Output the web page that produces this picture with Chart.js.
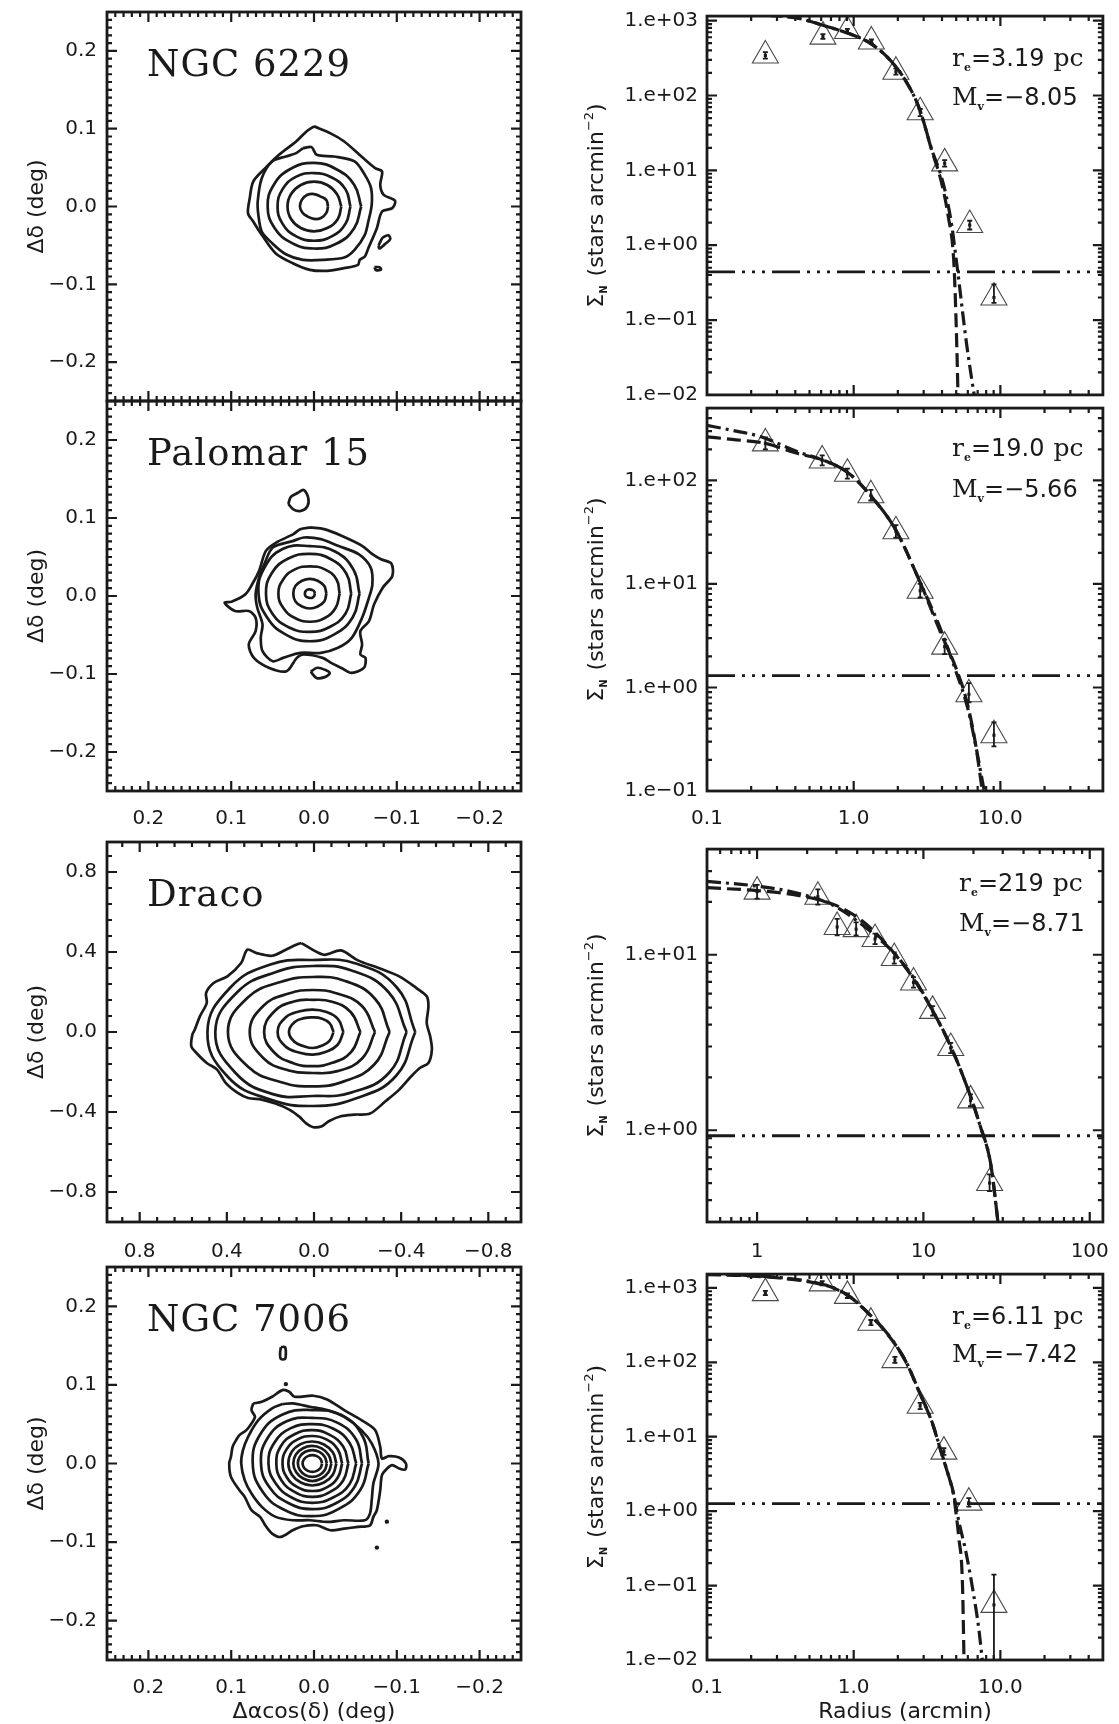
<!DOCTYPE html>
<html>
<head>
<meta charset="utf-8">
<script src="https://cdn.jsdelivr.net/npm/chart.js@4.4.0/dist/chart.umd.min.js"></script>
<style>
  body { margin: 0; background: #fff; width: 1119px; height: 1724px; position: relative; overflow: hidden; }
</style>
</head>
<body>
<script>
// ==========================================
// --- data: surface density profiles (right column) ---
// ==========================================

// NGC 6229
const n6229R  = [0.25, 0.617, 0.906, 1.32, 1.94, 2.84, 4.17, 6.18, 9.04];
const n6229S  = [343, 612, 726, 527, 208, 59.7, 12.4, 1.86, 0.20];
const n6229Lo = [310, 570, 680, 495, 190, 53, 11.2, 1.62, 0.17];
const n6229Hi = [380, 660, 775, 560, 228, 66, 13.7, 2.12, 0.30];
const n6229FitAR = [0.1, 0.233, 0.411, 0.646, 0.958, 1.27, 1.69, 2.24, 2.81, 3.42, 3.94, 4.41, 4.80, 4.93, 5.08, 5.14];
const n6229FitAS = [1300, 1197, 1083, 843, 657, 512, 327, 162, 66, 18.0, 7.3, 2.44, 0.665, 0.200, 0.027, 0.01];
const n6229FitBR = [0.1, 0.233, 0.411, 0.646, 0.958, 1.27, 1.69, 2.24, 2.81, 3.42, 3.94, 4.28, 4.67, 4.93, 5.20, 5.52, 5.91, 6.37, 6.63];
const n6229FitBS = [1300, 1197, 1083, 843, 657, 512, 327, 162, 66, 18.5, 8.5, 4.5, 1.8, 0.8, 0.35, 0.13, 0.045, 0.0165, 0.01];
const n6229Bg = 0.44;

// Palomar 15
const pal15R  = [0.25, 0.61, 0.906, 1.31, 1.94, 2.84, 4.17, 6.1, 9.04];
const pal15S  = [228, 156, 116, 72, 32.3, 8.6, 2.48, 0.86, 0.346];
const pal15Lo = [200, 140, 104, 64, 28, 7.4, 2.1, 0.72, 0.27];
const pal15Hi = [260, 175, 130, 81, 37, 10, 2.9, 1.1, 0.46];
const pal15FitAR = [0.1, 0.1485, 0.25, 0.411, 0.61, 0.906, 1.31, 1.94, 2.81, 3.94, 4.93, 5.85, 6.73, 7.53];
const pal15FitAS = [264, 249, 228, 183, 158, 120, 71, 33, 10.7, 3.32, 1.60, 0.77, 0.30, 0.1];
const pal15FitBR = [0.1, 0.1485, 0.2335, 0.411, 0.61, 0.906, 1.31, 1.94, 2.81, 3.94, 4.93, 6.01, 6.92, 7.76];
const pal15FitBS = [340, 305, 264, 190, 158, 120, 71, 33, 10.7, 3.57, 1.49, 0.62, 0.24, 0.1];
const pal15Bg = 1.30;

// Draco
const dracoR  = [1.0, 2.32, 3.03, 3.94, 5.12, 6.68, 8.72, 11.36, 14.6, 19.2, 25.0];
const dracoS  = [22.9, 21.4, 14.4, 14.0, 12.3, 9.58, 6.95, 4.79, 2.94, 1.48, 0.50];
const dracoLo = [20.9, 19.3, 12.9, 12.9, 11.5, 8.9, 6.5, 4.5, 2.75, 1.37, 0.45];
const dracoHi = [25.0, 23.6, 16.0, 15.3, 13.2, 10.3, 7.45, 5.1, 3.15, 1.6, 0.56];
const dracoFitAR = [0.5, 1, 1.76, 2.91, 4.14, 5.33, 6.68, 8.72, 11.36, 14.6, 18.8, 21.8, 25.4, 28.1];
const dracoFitAS = [24.1, 23.2, 21.8, 19.3, 16.0, 12.9, 10.2, 7.3, 4.8, 3.0, 1.65, 1.08, 0.64, 0.30];
const dracoFitBR = [0.5, 1, 1.76, 2.91, 4.14, 5.33, 6.68, 8.72, 11.36, 14.6, 18.8, 21.8, 25.4, 28.1];
const dracoFitBS = [26.2, 24.6, 22.4, 19.0, 15.2, 12.5, 10.2, 7.41, 4.82, 3.01, 1.65, 1.08, 0.643, 0.297];
const dracoBg = 0.93;

// NGC 7006
const n7006R  = [0.25, 0.61, 0.906, 1.31, 1.91, 2.84, 4.12, 6.1, 9.04];
const n7006S  = [850, 1150, 780, 340, 107, 26, 6.3, 1.3, 0.055];
const n7006Lo = [800, 1080, 730, 315, 98, 23.5, 5.7, 1.15, 0.001];
const n7006Hi = [910, 1230, 840, 370, 118, 28.5, 7.0, 1.5, 0.14];
const n7006FitAR = [0.1, 0.176, 0.31, 0.545, 0.722, 0.958, 1.27, 1.69, 2.24, 2.81, 3.42, 3.94, 4.41, 4.80, 4.93, 5.20, 5.52, 5.65];
const n7006FitAS = [1500, 1460, 1355, 1164, 1000, 738, 445, 242, 107, 39, 15.6, 6.27, 3.08, 1.68, 1.12, 0.45, 0.1, 0.01];
const n7006FitBR = [0.1, 0.176, 0.31, 0.545, 0.722, 0.958, 1.27, 1.69, 2.24, 2.81, 3.42, 3.94, 4.41, 4.80, 5.20, 5.85, 6.54, 7.13, 7.53];
const n7006FitBS = [1530, 1480, 1380, 1180, 1010, 745, 450, 245, 108, 39.5, 15.8, 6.4, 3.1, 1.68, 0.745, 0.27, 0.080, 0.0262, 0.01];
const n7006Bg = 1.26;

// tick labels
const radiusLabels = ['0.1', '1.0', '10.0'];
const radiusLabelVals = [0.1, 1, 10];
const dracoRadiusLabels = ['1', '10', '100'];
const dracoRadiusLabelVals = [1, 10, 100];
const gcOffsetTicks = [-0.2, -0.1, 0.0, 0.1, 0.2];
const dracoOffsetTicks = [-0.8, -0.4, 0.0, 0.4, 0.8];

// ==========================================
// --- data: density contours (left column), degrees ---
// ==========================================
// inner rings: radius read at each of these angles (0 = towards the right edge)
const contourAngles = [0, 30, 60, 90, 120, 150, 180, 210, 240, 270, 300, 330];

// NGC 6229
const n6229Centre = [0.0, 0.0];
const n6229Rings = [
    [0.017, 0.017, 0.015, 0.016, 0.017, 0.017, 0.017, 0.016, 0.015, 0.016, 0.017, 0.017],
    [0.033, 0.032, 0.032, 0.032, 0.032, 0.032, 0.032, 0.032, 0.032, 0.032, 0.032, 0.033],
    [0.044, 0.044, 0.043, 0.043, 0.044, 0.044, 0.044, 0.044, 0.044, 0.044, 0.044, 0.044],
    [0.057, 0.056, 0.055, 0.056, 0.056, 0.056, 0.056, 0.055, 0.054, 0.054, 0.055, 0.056]
];
const n6229Loop5X = [0.0133, 0.0029, -0.0033, -0.0241, -0.049, -0.0614, -0.0689, -0.0697, -0.0656, -0.0614, -0.049, -0.0365, -0.0116, 0.0133, 0.034, 0.0506, 0.0631, 0.0672, 0.068, 0.0631, 0.0506, 0.034, 0.0216];
const n6229Loop5Y = [0.075, 0.0763, 0.0664, 0.0643, 0.0579, 0.0407, 0.0236, 0.0021, -0.0193, -0.0364, -0.0557, -0.0656, -0.0686, -0.0686, -0.0613, -0.0471, -0.0321, -0.0107, 0.0064, 0.0364, 0.0579, 0.0643, 0.0686];
const n6229Loop6X = [0, -0.020, -0.0365, -0.0573, -0.0739, -0.0822, -0.080, -0.0842, -0.0979, -0.0946, -0.0822, -0.0759, -0.0656, -0.0614, -0.0552, -0.0531, -0.0365, -0.0158, 0.005, 0.0257, 0.0465, 0.0631, 0.0734, 0.0797, 0.0776, 0.0734, 0.0589, 0.0423, 0.0216, 0.0091];
const n6229Loop6Y = [0.103, 0.094, 0.0836, 0.0643, 0.0493, 0.045, 0.0279, 0.015, 0.0073, -0.0021, -0.0064, -0.0279, -0.0536, -0.0643, -0.0686, -0.075, -0.0793, -0.0827, -0.0814, -0.0729, -0.060, -0.0364, -0.0193, -0.0086, 0.0107, 0.0321, 0.0493, 0.0664, 0.0836, 0.0964];
const n6229BlobAX = [-0.078, -0.083, -0.090, -0.092, -0.085, -0.079];
const n6229BlobAY = [-0.050, -0.040, -0.037, -0.042, -0.049, -0.054];
const n6229BlobBX = [-0.073, -0.079, -0.081, -0.075];
const n6229BlobBY = [-0.078, -0.078, -0.081, -0.082];

// Palomar 15
const pal15Centre = [0.005, 0.003];
const pal15Rings = [
    [0.006, 0.006, 0.0055, 0.0055, 0.006, 0.006, 0.006, 0.006, 0.0055, 0.0055, 0.006, 0.006],
    [0.020, 0.020, 0.019, 0.019, 0.019, 0.020, 0.020, 0.020, 0.019, 0.019, 0.019, 0.020],
    [0.036, 0.037, 0.036, 0.035, 0.036, 0.037, 0.038, 0.037, 0.036, 0.036, 0.036, 0.036],
    [0.050, 0.051, 0.051, 0.051, 0.052, 0.053, 0.053, 0.052, 0.050, 0.049, 0.049, 0.050],
    [0.060, 0.061, 0.062, 0.061, 0.066, 0.064, 0.062, 0.060, 0.060, 0.061, 0.060, 0.060]
];
const pal15Loop6X = [0.0602, 0.0498, 0.0249, 0.0124, -0.0083, -0.029, -0.0539, -0.0685, -0.0705, -0.0664, -0.0581, -0.0456, -0.029, -0.0083, 0.0166, 0.0373, 0.0498, 0.0622, 0.0643, 0.0622, 0.0685, 0.0705, 0.0664];
const pal15Loop6Y = [0.0407, 0.0622, 0.0707, 0.075, 0.0729, 0.0643, 0.0536, 0.0364, 0.015, -0.0021, -0.0279, -0.0536, -0.0664, -0.0729, -0.0729, -0.0793, -0.0836, -0.0707, -0.0536, -0.0364, -0.015, 0.0021, 0.0236];
const pal15Loop7X = [0.0041, -0.0124, -0.0332, -0.0581, -0.0705, -0.0809, -0.0934, -0.0946, -0.083, -0.0726, -0.0664, -0.056, -0.0581, -0.056, -0.0622, -0.0602, -0.0456, -0.0332, -0.0207, -0.0104, 0.0124, 0.0207, 0.0332, 0.0539, 0.0726, 0.0788, 0.0705, 0.0705, 0.0788, 0.0954, 0.1079, 0.0996, 0.083, 0.0747, 0.0664, 0.0581, 0.0456, 0.0249, 0.0166];
const pal15Loop7Y = [0.0879, 0.0857, 0.0772, 0.0643, 0.0536, 0.0471, 0.0416, 0.0257, 0.0107, -0.0107, -0.0321, -0.045, -0.0622, -0.075, -0.0793, -0.0922, -0.0986, -0.0922, -0.0857, -0.0793, -0.075, -0.0793, -0.0964, -0.0922, -0.0793, -0.0622, -0.045, -0.0279, -0.0193, -0.0193, -0.0086, -0.0073, 0.0021, 0.015, 0.0321, 0.0579, 0.0686, 0.0793, 0.0857];
const pal15BlobTopX = [0.031, 0.028, 0.020, 0.0124, 0.007, 0.008, 0.016, 0.025];
const pal15BlobTopY = [0.118, 0.127, 0.132, 0.136, 0.126, 0.115, 0.109, 0.111];
const pal15BlobLowX = [0.004, -0.004, -0.014, -0.019, -0.013, -0.003];
const pal15BlobLowY = [-0.097, -0.092, -0.095, -0.099, -0.104, -0.105];

// Draco
const dracoCentre = [0.005, 0.0];
const dracoRings = [
    [0.095, 0.088, 0.078, 0.073, 0.080, 0.098, 0.110, 0.098, 0.082, 0.080, 0.080, 0.088],
    [0.140, 0.132, 0.117, 0.112, 0.120, 0.145, 0.162, 0.145, 0.120, 0.113, 0.115, 0.130],
    [0.218, 0.200, 0.175, 0.161, 0.176, 0.205, 0.224, 0.205, 0.180, 0.171, 0.178, 0.202],
    [0.285, 0.260, 0.222, 0.210, 0.222, 0.262, 0.290, 0.262, 0.222, 0.205, 0.226, 0.262],
    [0.352, 0.330, 0.295, 0.275, 0.290, 0.345, 0.390, 0.345, 0.290, 0.272, 0.285, 0.325],
    [0.430, 0.400, 0.355, 0.330, 0.345, 0.400, 0.448, 0.410, 0.360, 0.320, 0.350, 0.405],
    [0.470, 0.445, 0.395, 0.360, 0.390, 0.440, 0.484, 0.450, 0.390, 0.370, 0.385, 0.440]
];
const dracoLoop8X = [0.0584, -0.0442, -0.123, -0.2019, -0.2965, -0.3912, -0.47, -0.5174, -0.5252, -0.5174, -0.5331, -0.541, -0.5252, -0.4858, -0.4464, -0.3912, -0.3281, -0.2571, -0.1861, -0.123, -0.0678, -0.0363, 0.0032, 0.0347, 0.0662, 0.1136, 0.1767, 0.2397, 0.3028, 0.3502, 0.4054, 0.4448, 0.4921, 0.5394, 0.5631, 0.5584, 0.5473, 0.5237, 0.4921, 0.4953, 0.4606, 0.3975, 0.3344, 0.306, 0.2634, 0.1924, 0.1293, 0.082];
const dracoLoop8Y = [0.4446, 0.3863, 0.4079, 0.358, 0.3197, 0.2781, 0.2198, 0.1782, 0.1282, 0.045, -0.0216, -0.0882, -0.1548, -0.1798, -0.2215, -0.288, -0.3463, -0.4079, -0.4129, -0.4212, -0.4462, -0.4712, -0.4762, -0.4579, -0.4246, -0.388, -0.358, -0.338, -0.3297, -0.3047, -0.2547, -0.1881, -0.1548, -0.1049, -0.0716, -0.0133, 0.0117, 0.0783, 0.1449, 0.1948, 0.2448, 0.2781, 0.3447, 0.4113, 0.3946, 0.3813, 0.4113, 0.4362];

// NGC 7006
const n7006Centre = [0.002, 0.0];
const n7006Rings = [
    [0.0118, 0.0114, 0.0108, 0.0106, 0.0108, 0.0114, 0.0118, 0.0114, 0.0108, 0.0106, 0.0108, 0.0114],
    [0.0175, 0.0172, 0.017, 0.017, 0.0172, 0.0175, 0.0175, 0.0172, 0.017, 0.017, 0.017, 0.0172],
    [0.023, 0.0225, 0.0222, 0.0223, 0.0225, 0.023, 0.023, 0.0225, 0.022, 0.0223, 0.022, 0.0225],
    [0.029, 0.0285, 0.028, 0.028, 0.0285, 0.029, 0.029, 0.0285, 0.028, 0.028, 0.028, 0.0285],
    [0.036, 0.0355, 0.035, 0.035, 0.0355, 0.036, 0.036, 0.0355, 0.035, 0.035, 0.035, 0.0355],
    [0.0435, 0.043, 0.042, 0.0425, 0.043, 0.044, 0.0435, 0.043, 0.042, 0.0425, 0.042, 0.043],
    [0.053, 0.052, 0.051, 0.050, 0.052, 0.053, 0.053, 0.051, 0.050, 0.050, 0.050, 0.052],
    [0.060, 0.061, 0.060, 0.058, 0.062, 0.063, 0.062, 0.060, 0.058, 0.058, 0.058, 0.059],
    [0.068, 0.070, 0.071, 0.068, 0.072, 0.073, 0.072, 0.070, 0.068, 0.067, 0.066, 0.067]
];
const n7006Loop10X = [0.0381, 0.0257, 0.005, -0.0158, -0.0365, -0.0572, -0.0697, -0.0779, -0.0717, -0.0697, -0.0676, -0.0614, -0.0365, -0.0158, 0.005, 0.0257, 0.0464, 0.063, 0.0755, 0.0837, 0.0879, 0.0858, 0.0796, 0.0672, 0.0506];
const n7006Loop10Y = [0.0756, 0.0764, 0.0722, 0.0679, 0.0594, 0.0425, 0.0255, 0, -0.0255, -0.0467, -0.0637, -0.0722, -0.0722, -0.0743, -0.0722, -0.0722, -0.0679, -0.0552, -0.0382, -0.0212, 0, 0.017, 0.034, 0.0552, 0.0701];
const n7006Loop11X = [0.0734, 0.063, 0.0506, 0.0381, 0.0299, 0.0236, 0.0008, -0.0158, -0.0365, -0.0572, -0.0738, -0.08, -0.0821, -0.0904, -0.1028, -0.111, -0.1103, -0.1028, -0.0945, -0.0883, -0.0821, -0.08, -0.0759, -0.0717, -0.0676, -0.0531, -0.0365, -0.0199, -0.0033, 0.0133, 0.0257, 0.0402, 0.0506, 0.0589, 0.0651, 0.0755, 0.0837, 0.09, 0.1003, 0.1024, 0.1003, 0.0983, 0.0941, 0.09, 0.0817, 0.0755, 0.0713, 0.0755];
const n7006Loop11Y = [0.0764, 0.0786, 0.0849, 0.0934, 0.0913, 0.0849, 0.0862, 0.0815, 0.0679, 0.0552, 0.0425, 0.0212, 0.0064, 0.0093, 0.0076, 0, -0.0076, -0.0064, -0.0021, -0.0064, -0.0149, -0.034, -0.0594, -0.0679, -0.0786, -0.0807, -0.0828, -0.0849, -0.0786, -0.0798, -0.0849, -0.0934, -0.0892, -0.0786, -0.0679, -0.0594, -0.0425, -0.034, -0.017, 0, 0.0085, 0.0212, 0.0297, 0.0361, 0.0425, 0.051, 0.0594, 0.0679];
const n7006BlobX = [0.040, 0.035, 0.034, 0.035, 0.040, 0.041];
const n7006BlobY = [0.148, 0.148, 0.140, 0.133, 0.133, 0.140];
const n7006DotX = [0.034, -0.088, -0.076];
const n7006DotY = [0.101, -0.074, -0.107];

// ==========================================
// --- layout (page pixels) ---
// ==========================================
const INK = '#1a1a1a';
const ROWS = [
    { top: 0,    h: 411, padTop: 12, axisH: 10, labelPad: 16 },
    { top: 392,  h: 449, padTop: 9,  axisH: 50, labelPad: 16 },
    { top: 833,  h: 434, padTop: 9,  axisH: 45, labelPad: 18 },
    { top: 1258, h: 466, padTop: 9,  axisH: 64, labelPad: 16 }
];
const COLS = [
    { left: 0,   w: 560, axisW: 107, padRight: 39 },
    { left: 560, w: 559, axisW: 147, padRight: 8 }
];

Chart.defaults.font.family = '"DejaVu Sans", sans-serif';
Chart.defaults.color = INK;

function addCanvas(left, top, w, h) {
    const c = document.createElement('canvas');
    c.width = w; c.height = h;
    c.style.cssText = `position:absolute;left:${left}px;top:${top}px;width:${w}px;height:${h}px`;
    document.body.appendChild(c);
    return c;
}

// --- tick helpers ---
function linMinor(lim, step) {
    const out = [];
    const n = Math.floor(lim / step + 1e-6);
    for (let i = -n; i <= n; i++) out.push(+(i * step).toFixed(4));
    return out;
}
function logMajor(lo, hi) {
    const out = [];
    for (let e = Math.floor(Math.log10(lo)); e <= Math.ceil(Math.log10(hi)); e++) {
        const v = Math.pow(10, e);
        if (v >= lo * 0.999 && v <= hi * 1.001) out.push(v);
    }
    return out;
}
function logMinor(lo, hi) {
    const out = [];
    for (let e = Math.floor(Math.log10(lo)); e <= Math.ceil(Math.log10(hi)); e++)
        for (let m = 2; m <= 9; m++) {
            const v = m * Math.pow(10, e);
            if (v > lo && v < hi) out.push(v);
        }
    return out;
}
const offsetLabel = v => (v < -1e-9 ? '\u2212' : '') + Math.abs(v).toFixed(1);
const decadeLabel = v => {
    const e = Math.round(Math.log10(v));
    return '1.e' + (e < 0 ? '\u2212' : '+') + String(Math.abs(e)).padStart(2, '0');
};

// text in pieces (sub/superscripts); rotated = vertical axis title
function drawRuns(ctx, x, y, runs, rotated) {
    ctx.save();
    ctx.fillStyle = INK;
    ctx.textBaseline = 'alphabetic';
    ctx.textAlign = 'left';
    let total = 0;
    runs.forEach(r => { ctx.font = r.font; total += ctx.measureText(r.t).width + (r.gap || 0); });
    ctx.translate(x, y);
    let pos = 0;
    if (rotated) { ctx.rotate(-Math.PI / 2); pos = -total / 2; }
    runs.forEach(r => {
        ctx.font = r.font;
        ctx.fillText(r.t, pos, r.dy || 0);
        pos += ctx.measureText(r.t).width + (r.gap || 0);
    });
    ctx.restore();
}

// frame, inward ticks on all four sides, and panel texts
function framePlugin(cfg) {
    return {
        id: 'frame',
        afterDatasetsDraw(chart) {
            const { ctx, chartArea: a, scales: { x: sx, y: sy } } = chart;
            ctx.save();

            if (cfg.errR) {
                ctx.save();
                ctx.beginPath(); ctx.rect(a.left, a.top, a.width, a.height); ctx.clip();
                ctx.strokeStyle = INK; ctx.lineWidth = 1.8;
                ctx.beginPath();
                cfg.errR.forEach((r, i) => {
                    const px = sx.getPixelForValue(r);
                    const y1 = sy.getPixelForValue(cfg.errLo[i]);
                    const y2 = sy.getPixelForValue(cfg.errHi[i]);
                    ctx.moveTo(px, y1); ctx.lineTo(px, y2);
                    ctx.moveTo(px - 2.5, y1); ctx.lineTo(px + 2.5, y1);
                    ctx.moveTo(px - 2.5, y2); ctx.lineTo(px + 2.5, y2);
                });
                ctx.stroke();
                ctx.restore();
            }

            ctx.strokeStyle = INK;
            ctx.lineWidth = 2.2;
            ctx.beginPath();
            const tickX = (v, len) => {
                const p = sx.getPixelForValue(v);
                if (p < a.left + 1 || p > a.right - 1) return;
                ctx.moveTo(p, a.bottom); ctx.lineTo(p, a.bottom - len);
                ctx.moveTo(p, a.top); ctx.lineTo(p, a.top + len);
            };
            const tickY = (v, len) => {
                const p = sy.getPixelForValue(v);
                if (p < a.top + 1 || p > a.bottom - 1) return;
                ctx.moveTo(a.left, p); ctx.lineTo(a.left + len, p);
                ctx.moveTo(a.right, p); ctx.lineTo(a.right - len, p);
            };
            cfg.xMinor.forEach(v => tickX(v, 5));
            cfg.xMajor.forEach(v => tickX(v, 10));
            cfg.yMinor.forEach(v => tickY(v, 5));
            cfg.yMajor.forEach(v => tickY(v, 10));
            ctx.stroke();

            ctx.lineWidth = 2.8;
            ctx.strokeRect(a.left, a.top, a.width, a.height);

            if (cfg.name) {
                ctx.font = '37px "DejaVu Serif"';
                ctx.fillStyle = INK;
                ctx.letterSpacing = '1px';
                ctx.fillText(cfg.name, a.left + 40, a.top + 64);
                ctx.letterSpacing = '0px';
            }
            if (cfg.re) {
                const x0 = a.left + cfg.textDx;
                drawRuns(ctx, x0, a.top + cfg.reDy, [
                    { t: 'r', font: '25px "DejaVu Serif"' },
                    { t: 'e', font: 'bold 11px "DejaVu Serif"', dy: 5 },
                    { t: '=' + cfg.re, font: '24px "DejaVu Sans"', gap: 9 },
                    { t: 'pc', font: '25px "DejaVu Serif"' }
                ]);
                drawRuns(ctx, x0, a.top + cfg.mvDy, [
                    { t: 'M', font: '25px "DejaVu Serif"' },
                    { t: 'v', font: 'bold 11px "DejaVu Serif"', dy: 5 },
                    { t: '=' + cfg.mv, font: '24px "DejaVu Sans"' }
                ]);
            }
            const yc = (a.top + a.bottom) / 2;
            if (cfg.side === 'map') {
                drawRuns(ctx, a.left - 64, yc, [{ t: '\u0394\u03b4 (deg)', font: '22px "DejaVu Sans"' }], true);
            } else {
                drawRuns(ctx, a.left - 104, yc, [
                    { t: '\u03a3', font: '22px "DejaVu Sans"' },
                    { t: 'N', font: 'bold 10px "DejaVu Sans"', dy: 4, gap: 2 },
                    { t: ' (stars arcmin', font: '22px "DejaVu Sans"' },
                    { t: '\u22122', font: '13px "DejaVu Sans"', dy: -10 },
                    { t: ')', font: '22px "DejaVu Sans"' }
                ], true);
            }
            if (cfg.xTitle) {
                ctx.font = '22px "DejaVu Sans"';
                ctx.textAlign = 'center';
                ctx.fillStyle = INK;
                ctx.fillText(cfg.xTitle, (a.left + a.right) / 2, a.bottom + 58);
            }
            ctx.restore();
        }
    };
}

function axisCommon(row, col, isX) {
    return {
        grid: { display: false, drawTicks: false },
        border: { display: false },
        afterFit: s => {
            if (isX) { s.height = row.axisH; s.paddingLeft = 0; s.paddingRight = 0; }
            else { s.width = col.axisW; s.paddingTop = 0; s.paddingBottom = 0; }
        }
    };
}

// ==========================================
// --- left column: contour maps ---
// ==========================================
function ringPoints(c, radii) {
    const pts = radii.map((r, i) => {
        const t = contourAngles[i] * Math.PI / 180;
        return { x: c[0] - r * Math.cos(t), y: c[1] + r * Math.sin(t) };
    });
    pts.push(pts[0]);
    return pts;
}
function loopPoints(xs, ys) {
    const pts = xs.map((x, i) => ({ x, y: ys[i] }));
    pts.push(pts[0]);
    return pts;
}
function contourSet(data, tension) {
    return { data, showLine: true, pointRadius: 0, borderColor: INK, borderWidth: 2.7, tension, fill: false };
}

function mapChart(rowIdx, m) {
    const row = ROWS[rowIdx], col = COLS[0];
    const canvas = addCanvas(col.left, row.top, col.w, row.h);
    const datasets = [];
    m.rings.forEach(r => datasets.push(contourSet(ringPoints(m.centre, r), 0.45)));
    m.loops.forEach(([xs, ys]) => datasets.push(contourSet(loopPoints(xs, ys), 0.3)));
    if (m.dots) datasets.push({
        data: m.dots[0].map((x, i) => ({ x, y: m.dots[1][i] })),
        pointRadius: 2.2, borderWidth: 0, backgroundColor: INK
    });
    const cfg = {
        side: 'map', name: m.name, xTitle: m.xTitle,
        xMajor: m.ticks, xMinor: linMinor(m.lim, m.minor),
        yMajor: m.ticks, yMinor: linMinor(m.lim, m.minor)
    };
    new Chart(canvas, {
        type: 'scatter',
        data: { datasets },
        options: {
            responsive: false, animation: false, events: [],
            layout: { padding: { left: 0, top: row.padTop, right: col.padRight, bottom: 0 } },
            plugins: { legend: { display: false }, tooltip: { enabled: false } },
            scales: {
                x: Object.assign(axisCommon(row, col, true), {
                    type: 'linear', reverse: true, min: -m.lim, max: m.lim,
                    afterBuildTicks: s => { s.ticks = m.ticks.map(v => ({ value: v })); },
                    ticks: { display: m.showX, callback: offsetLabel, padding: row.labelPad, maxRotation: 0, autoSkip: false, font: { size: 20 } }
                }),
                y: Object.assign(axisCommon(row, col, false), {
                    type: 'linear', min: -m.lim, max: m.lim,
                    afterBuildTicks: s => { s.ticks = m.ticks.map(v => ({ value: v })); },
                    ticks: { callback: offsetLabel, padding: 10, autoSkip: false, font: { size: 20 } }
                })
            }
        },
        plugins: [framePlugin(cfg)]
    });
}

// ==========================================
// --- right column: radial profiles ---
// ==========================================
function profileChart(rowIdx, p) {
    const row = ROWS[rowIdx], col = COLS[1];
    const canvas = addCanvas(col.left, row.top, col.w, row.h);
    const pts = (xs, ys) => xs.map((x, i) => ({ x, y: ys[i] }));
    const curve = (data, dash, w) => ({
        data, showLine: true, pointRadius: 0, borderColor: INK, borderWidth: w,
        borderDash: dash, cubicInterpolationMode: 'monotone', fill: false, clip: 1
    });
    const cfg = {
        side: 'profile', re: p.re, mv: p.mv, textDx: p.textDx, reDy: p.reDy, mvDy: p.mvDy,
        xTitle: p.xTitle,
        xMajor: logMajor(p.xMin, p.xMax), xMinor: logMinor(p.xMin, p.xMax),
        yMajor: logMajor(p.yMin, p.yMax), yMinor: logMinor(p.yMin, p.yMax),
        errR: p.r, errLo: p.lo, errHi: p.hi
    };
    new Chart(canvas, {
        type: 'scatter',
        data: {
            datasets: [
                curve(pts(p.fitAR, p.fitAS), [14, 6], 3.2),
                curve(pts(p.fitBR, p.fitBS), [14, 5, 3, 5], 3.2),
                curve([{ x: p.xMin, y: p.bg }, { x: p.xMax, y: p.bg }], [28, 7, 3, 7, 3, 7, 3, 7], 2.8),
                { data: pts(p.r, p.s), pointStyle: 'triangle', pointRadius: 15, borderColor: '#4a4a4a', borderWidth: 1.1, backgroundColor: 'rgba(0,0,0,0)' },
                { data: pts(p.r, p.s), pointStyle: 'rect', pointRadius: 2.2, borderWidth: 0, backgroundColor: INK }
            ]
        },
        options: {
            responsive: false, animation: false, events: [],
            layout: { padding: { left: 0, top: row.padTop, right: col.padRight, bottom: 0 } },
            plugins: { legend: { display: false }, tooltip: { enabled: false } },
            scales: {
                x: Object.assign(axisCommon(row, col, true), {
                    type: 'logarithmic', min: p.xMin, max: p.xMax,
                    afterBuildTicks: s => { s.ticks = p.xLabelVals.map(v => ({ value: v })); },
                    ticks: { display: p.showX, callback: (v, i) => p.xLabels[i], padding: row.labelPad, maxRotation: 0, autoSkip: false, font: { size: 20 } }
                }),
                y: Object.assign(axisCommon(row, col, false), {
                    type: 'logarithmic', min: p.yMin, max: p.yMax,
                    afterBuildTicks: s => { s.ticks = logMajor(p.yMin, p.yMax).map(v => ({ value: v })); },
                    ticks: { callback: decadeLabel, padding: 9, autoSkip: false, font: { size: 20 } }
                })
            }
        },
        plugins: [framePlugin(cfg)]
    });
}

// ==========================================
// --- build the eight panels ---
// ==========================================
mapChart(0, {
    name: 'NGC 6229', lim: 0.25, ticks: gcOffsetTicks, minor: 0.01, showX: false,
    centre: n6229Centre, rings: n6229Rings,
    loops: [[n6229Loop5X, n6229Loop5Y], [n6229Loop6X, n6229Loop6Y], [n6229BlobAX, n6229BlobAY], [n6229BlobBX, n6229BlobBY]]
});
mapChart(1, {
    name: 'Palomar 15', lim: 0.25, ticks: gcOffsetTicks, minor: 0.01, showX: true,
    centre: pal15Centre, rings: pal15Rings,
    loops: [[pal15Loop6X, pal15Loop6Y], [pal15Loop7X, pal15Loop7Y], [pal15BlobTopX, pal15BlobTopY], [pal15BlobLowX, pal15BlobLowY]]
});
mapChart(2, {
    name: 'Draco', lim: 0.95, ticks: dracoOffsetTicks, minor: 0.08, showX: true,
    centre: dracoCentre, rings: dracoRings,
    loops: [[dracoLoop8X, dracoLoop8Y]]
});
mapChart(3, {
    name: 'NGC 7006', lim: 0.25, ticks: gcOffsetTicks, minor: 0.01, showX: true,
    xTitle: '\u0394\u03b1cos(\u03b4) (deg)',
    centre: n7006Centre, rings: n7006Rings,
    loops: [[n7006Loop10X, n7006Loop10Y], [n7006Loop11X, n7006Loop11Y], [n7006BlobX, n7006BlobY]],
    dots: [n7006DotX, n7006DotY]
});

profileChart(0, {
    r: n6229R, s: n6229S, lo: n6229Lo, hi: n6229Hi,
    fitAR: n6229FitAR, fitAS: n6229FitAS, fitBR: n6229FitBR, fitBS: n6229FitBS, bg: n6229Bg,
    xMin: 0.1, xMax: 50, yMin: 0.01, yMax: 1150, showX: false,
    xLabels: radiusLabels, xLabelVals: radiusLabelVals,
    re: '3.19', mv: '\u22128.05', textDx: 245, reDy: 50, mvDy: 89
});
profileChart(1, {
    r: pal15R, s: pal15S, lo: pal15Lo, hi: pal15Hi,
    fitAR: pal15FitAR, fitAS: pal15FitAS, fitBR: pal15FitBR, fitBS: pal15FitBS, bg: pal15Bg,
    xMin: 0.1, xMax: 50, yMin: 0.1, yMax: 500, showX: true,
    xLabels: radiusLabels, xLabelVals: radiusLabelVals,
    re: '19.0', mv: '\u22125.66', textDx: 245, reDy: 48, mvDy: 89
});
profileChart(2, {
    r: dracoR, s: dracoS, lo: dracoLo, hi: dracoHi,
    fitAR: dracoFitAR, fitAS: dracoFitAS, fitBR: dracoFitBR, fitBS: dracoFitBS, bg: dracoBg,
    xMin: 0.5, xMax: 120, yMin: 0.3, yMax: 40, showX: true,
    xLabels: dracoRadiusLabels, xLabelVals: dracoRadiusLabelVals,
    re: '219', mv: '\u22128.71', textDx: 252, reDy: 42, mvDy: 82
});
profileChart(3, {
    r: n7006R, s: n7006S, lo: n7006Lo, hi: n7006Hi,
    fitAR: n7006FitAR, fitAS: n7006FitAS, fitBR: n7006FitBR, fitBS: n7006FitBS, bg: n7006Bg,
    xMin: 0.1, xMax: 50, yMin: 0.01, yMax: 1530, showX: true,
    xLabels: radiusLabels, xLabelVals: radiusLabelVals, xTitle: 'Radius (arcmin)',
    re: '6.11', mv: '\u22127.42', textDx: 245, reDy: 50, mvDy: 88
});
</script>
</body>
</html>
